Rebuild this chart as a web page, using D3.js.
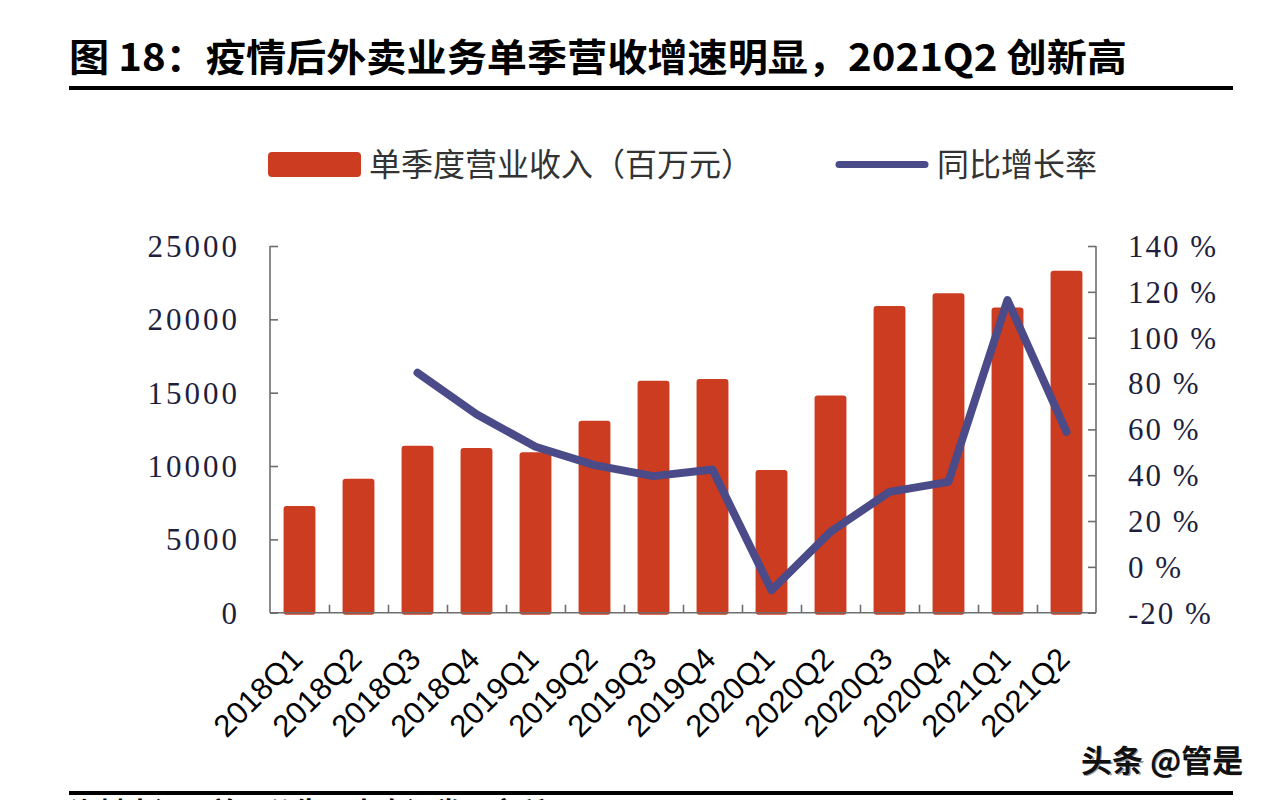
<!DOCTYPE html>
<html>
<head>
<meta charset="utf-8">
<script src="https://cdn.jsdelivr.net/npm/d3@7"></script>
<style>
  html, body { margin: 0; padding: 0; background: #ffffff; }
  svg { display: block; }
</style>
</head>
<body>
<svg id="chart" width="1272" height="800"></svg>
<script>
// ---- data ----
const categories = ["2018Q1","2018Q2","2018Q3","2018Q4","2019Q1","2019Q2","2019Q3","2019Q4",
                    "2020Q1","2020Q2","2020Q3","2020Q4","2021Q1","2021Q2"];
const revenue = [7270, 9130, 11390, 11230, 10935, 13090, 15820, 15935,
                 9730, 14800, 20910, 21780, 20800, 23320];
const yoyGrowth = [null, null, 84.7, 66.6, 52.4, 44.4, 39.6, 42.5,
                   -10.2, 15.3, 32.7, 37.1, 116.4, 58.9];
const leftTicks = [0, 5000, 10000, 15000, 20000, 25000];
const rightTicks = [-20, 0, 20, 40, 60, 80, 100, 120, 140];
const titleText = "图 18：疫情后外卖业务单季营收增速明显，2021Q2 创新高";
const legendLabels = ["单季度营业收入（百万元）", "同比增长率"];
const sourceText = "资料来源：美团公告，中泰证券研究所";
const watermarkText = "头条 @管是";

// ---- layout ----
const svg = d3.select("#chart");
const plotLeft = 270, plotRight = 1096, plotTop = 246, plotBottom = 612.7;
const barColor = "#cc3c20";
const lineColor = "#4a4b88";
const axisColor = "#6e6e6e";
const labelColor = "#1e1f3e";

const x = d3.scaleBand().domain(categories).range([plotLeft, plotRight])
  .paddingInner(0.46).paddingOuter(0.23);
const yL = d3.scaleLinear().domain([0, 25000]).range([plotBottom, plotTop]);
const yR = d3.scaleLinear().domain([-20, 140]).range([plotBottom, plotTop]);

// title
svg.append("text")
  .attr("x", 69).attr("y", 71)
  .attr("font-family", "'Noto Sans CJK SC', sans-serif")
  .attr("font-weight", "bold")
  .attr("font-size", 38)
  .attr("fill", "#000")
  .attr("textLength", 1058)
  .attr("lengthAdjust", "spacingAndGlyphs")
  .text(titleText);

svg.append("rect").attr("x", 69).attr("y", 86).attr("width", 1164).attr("height", 4).attr("fill", "#000");
svg.append("rect").attr("x", 69).attr("y", 791).attr("width", 1164).attr("height", 4).attr("fill", "#000");

// source (mostly cut off at bottom, as in the reference)
svg.append("text")
  .attr("x", 70).attr("y", 823)
  .attr("font-family", "'Noto Sans CJK SC', sans-serif")
  .attr("font-weight", "bold")
  .attr("font-size", 28)
  .attr("fill", "#000")
  .text(sourceText);

// legend
const legend = svg.append("g");
legend.append("rect").attr("x", 268).attr("y", 152).attr("width", 93).attr("height", 25)
  .attr("rx", 4).attr("fill", barColor);
legend.append("text").attr("x", 369).attr("y", 176)
  .attr("font-family", "'Noto Sans CJK SC', sans-serif").attr("font-size", 32)
  .attr("fill", "#333").text(legendLabels[0]);
legend.append("line").attr("x1", 839).attr("x2", 925).attr("y1", 164.5).attr("y2", 164.5)
  .attr("stroke", lineColor).attr("stroke-width", 7).attr("stroke-linecap", "round");
legend.append("text").attr("x", 937).attr("y", 176)
  .attr("font-family", "'Noto Sans CJK SC', sans-serif").attr("font-size", 32)
  .attr("fill", "#333").text(legendLabels[1]);

// bars
svg.append("g").selectAll("rect").data(categories).join("rect")
  .attr("x", d => x(d))
  .attr("y", (d, i) => yL(revenue[i]))
  .attr("width", x.bandwidth())
  .attr("height", (d, i) => yL(0) - yL(revenue[i]) + 2)
  .attr("rx", 3)
  .attr("fill", barColor);

// axes
const leftAxis = d3.axisLeft(yL).tickValues(leftTicks).tickSize(-8).tickFormat("");
const gL = svg.append("g").attr("transform", `translate(${plotLeft},0)`).call(leftAxis);
const rightAxis = d3.axisRight(yR).tickValues(rightTicks).tickSize(-8).tickFormat("");
const gR = svg.append("g").attr("transform", `translate(${plotRight},0)`).call(rightAxis);
const boundaries = d3.range(1, categories.length).map(i => plotLeft + (plotRight - plotLeft) * i / categories.length);
const xTickScale = d3.scaleLinear().domain([plotLeft, plotRight]).range([plotLeft, plotRight]);
const bottomAxis = d3.axisBottom(xTickScale).tickValues(boundaries).tickSize(-8).tickFormat("");
const gB = svg.append("g").attr("transform", `translate(0,${plotBottom})`).call(bottomAxis);
[gL, gR, gB].forEach(g => {
  g.select(".domain").attr("stroke", axisColor).attr("stroke-width", 1.6);
  g.selectAll(".tick line").attr("stroke", axisColor).attr("stroke-width", 1.6);
});
gL.select(".domain").attr("d", `M0,${plotTop}V${plotBottom}`);
gR.select(".domain").attr("d", `M0,${plotTop}V${plotBottom}`);
gB.select(".domain").attr("d", `M${plotLeft},0H${plotRight}`);

// left tick labels
svg.append("g").selectAll("text").data(leftTicks).join("text")
  .attr("x", 240).attr("y", d => yL(d)).attr("dy", "0.35em")
  .attr("text-anchor", "end")
  .attr("font-family", "'Liberation Serif', 'DejaVu Serif', serif")
  .attr("font-size", 31).attr("letter-spacing", 3)
  .attr("fill", labelColor)
  .text(d => d);

// right tick labels
svg.append("g").selectAll("text").data(rightTicks).join("text")
  .attr("x", 1128).attr("y", d => yR(d)).attr("dy", "0.35em")
  .attr("font-family", "'Liberation Serif', 'DejaVu Serif', serif")
  .attr("font-size", 31).attr("letter-spacing", 2)
  .attr("fill", labelColor)
  .text(d => d + " %");

// x labels
svg.append("g").selectAll("text").data(categories).join("text")
  .attr("transform", d => `translate(${x(d) + x.bandwidth() / 2 + 5},${plotBottom + 48}) rotate(-45)`)
  .attr("text-anchor", "end")
  .attr("font-family", "'Liberation Sans', Arial, sans-serif")
  .attr("font-size", 31)
  .attr("fill", "#000")
  .text(d => d);

// line
const lineGen = d3.line()
  .defined(d => d.v !== null)
  .x(d => x(d.c) + x.bandwidth() / 2)
  .y(d => yR(d.v));
svg.append("path")
  .datum(categories.map((c, i) => ({ c, v: yoyGrowth[i] })))
  .attr("d", lineGen)
  .attr("fill", "none")
  .attr("stroke", lineColor)
  .attr("stroke-width", 8)
  .attr("stroke-linejoin", "round")
  .attr("stroke-linecap", "round");

// watermark
svg.append("text")
  .attr("x", 1083).attr("y", 773)
  .attr("font-family", "'Noto Sans CJK SC', sans-serif")
  .attr("font-size", 31)
  .attr("fill", "#999")
  .text(watermarkText);
svg.append("text")
  .attr("x", 1081).attr("y", 772)
  .attr("font-family", "'Noto Sans CJK SC', sans-serif")
  .attr("font-weight", "bold")
  .attr("font-size", 31)
  .attr("fill", "#111")
  .text(watermarkText);
</script>
</body>
</html>
